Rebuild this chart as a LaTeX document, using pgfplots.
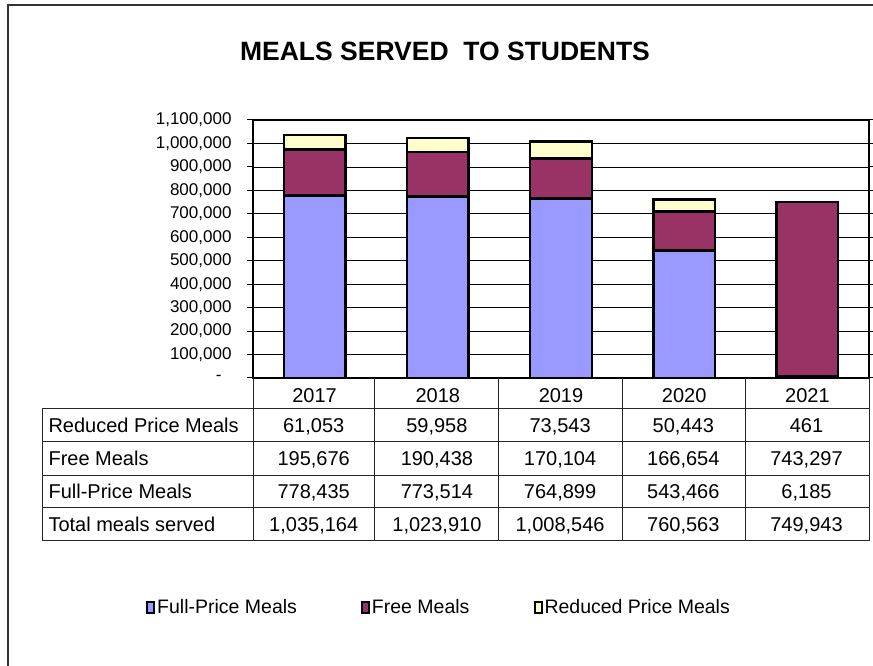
\documentclass[border=0pt]{standalone}
\usepackage{fontspec}
\setmainfont{Liberation Sans}
\usepackage{pgfplots}
\usepackage{pgfplotstable}
\pgfplotsset{compat=1.18}
\definecolor{fullc}{HTML}{9999FF}
\definecolor{freec}{HTML}{993366}
\definecolor{redc}{HTML}{FFFFCC}

\pgfplotstableread{
x full free reduced
0 778435 195676 61053
1 773514 190438 59958
2 764899 170104 73543
3 543466 166654 50443
4 6185 743297 461
}\mealdata

\begin{document}
\begin{tikzpicture}[x=1pt,y=1pt]
\path[use as bounding box] (0,0) rectangle (873,666);
\draw[line width=1.5pt, black!80] (8,0) -- (8,661) -- (873,661);
\node[font=\bfseries\fontsize{26.5}{30}\selectfont] at (445,615) {MEALS SERVED\ \ TO STUDENTS};

\begin{axis}[
  at={(253pt,288pt)}, anchor=south west,
  scale only axis, width=616pt, height=258pt,
  ybar stacked, bar width=0.5,
  xmin=-0.5, xmax=4.5, ymin=0, ymax=1100000,
  scaled y ticks=false,
  xtick={0,1,2,3,4}, xticklabels={2017,2018,2019,2020,2021},
  x tick style={draw=none},
  ytick={0,100000,200000,300000,400000,500000,600000,700000,800000,900000,1000000,1100000},
  yticklabels={{-\hspace*{10pt}},{100,000},{200,000},{300,000},{400,000},{500,000},{600,000},{700,000},{800,000},{900,000},{1,000,000},{1,100,000}},
  ymajorgrids, grid style={black, line width=0.8pt},
  axis line style={line width=2pt},
  tick align=outside, major tick length=6pt,
  y tick style={black, line width=1pt},
  /pgf/number format/assume math mode=true,
  yticklabel style={font=\fontsize{17}{19}\selectfont, xshift=-12pt},
  xticklabel style={font=\fontsize{20}{24}\selectfont, anchor=base, yshift=-19pt},
  legend columns=3,
  legend style={at={(0.302,-0.888)}, anchor=center, draw=none, fill=none,
    font=\fontsize{19.5}{22}\selectfont,
    /tikz/every even column/.append style={column sep=62pt}},
  legend image code/.code={\draw[#1, line width=2pt] (0pt,-5.5pt) rectangle (7pt,5.5pt);},
]
\addplot[fill=fullc, draw=black, line width=2.5pt] table[x=x,y=full]{\mealdata};
\addlegendentry{Full-Price Meals}
\addplot[fill=freec, draw=black, line width=2.5pt] table[x=x,y=free]{\mealdata};
\addlegendentry{Free Meals}
\addplot[fill=redc, draw=black, line width=2.5pt] table[x=x,y=reduced]{\mealdata};
\addlegendentry{Reduced Price Meals}
\end{axis}

% data table grid
\begin{scope}[line width=1pt, black!85]
\foreach \yy in {257,224,190,158,125} \draw (42,\yy) -- (869,\yy);
\draw (42,257) -- (42,125);
\foreach \xx in {253,374.5,498,622,745,869} \draw (\xx,288) -- (\xx,125);
\end{scope}
\begin{scope}[font=\fontsize{20}{24}\selectfont, every node/.style={anchor=base}]
\node[anchor=base west] at (45,233.5) {Reduced Price Meals};
\node[anchor=base west] at (45,200) {Free Meals};
\node[anchor=base west] at (45,167) {Full-Price Meals};
\node[anchor=base west] at (45,134.5) {Total meals served};
\node at (313.7,233.5) {61,053};
\node at (436.9,233.5) {59,958};
\node at (560.1,233.5) {73,543};
\node at (683.3,233.5) {50,443};
\node at (806.5,233.5) {461};
\node at (313.7,200) {195,676};
\node at (436.9,200) {190,438};
\node at (560.1,200) {170,104};
\node at (683.3,200) {166,654};
\node at (806.5,200) {743,297};
\node at (313.7,167) {778,435};
\node at (436.9,167) {773,514};
\node at (560.1,167) {764,899};
\node at (683.3,167) {543,466};
\node at (806.5,167) {6,185};
\node at (313.7,134.5) {1,035,164};
\node at (436.9,134.5) {1,023,910};
\node at (560.1,134.5) {1,008,546};
\node at (683.3,134.5) {760,563};
\node at (806.5,134.5) {749,943};
\end{scope}
\end{tikzpicture}
\end{document}
